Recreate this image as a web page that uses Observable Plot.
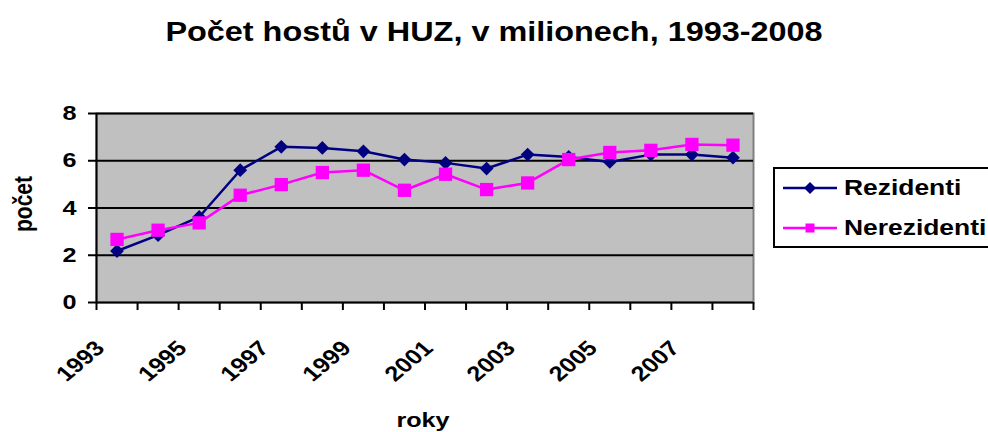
<!DOCTYPE html>
<html>
<head>
<meta charset="utf-8">
<script src="https://cdn.jsdelivr.net/npm/d3@7"></script>
<script src="https://cdn.jsdelivr.net/npm/@observablehq/plot@0.6"></script>
<style>
  html, body { margin: 0; padding: 0; background: #fff; }
  #wrap { position: relative; width: 988px; height: 432px; overflow: hidden; font-family: "Liberation Sans", Arial, sans-serif; font-weight: bold; }
  #title { position: absolute; left: 0; top: 19px; width: 988px; text-align: center; font-size: 27px; line-height: 27px; transform: scaleX(1.2); transform-origin: 494px 0; white-space: nowrap; }
  #legend { position: absolute; left: 773px; top: 167px; width: 230px; height: 77px; border: 2px solid #000; background: #fff; }
  .item { position: absolute; left: 8px; height: 30px; display: flex; align-items: center; }
  .item span { font-size: 22px; line-height: 22px; transform: scaleX(1.2); transform-origin: 0 50%; margin-left: 6px; white-space: nowrap; }
</style>
</head>
<body>
<div id="wrap">
  <div id="chart"></div>
  <div id="title">Počet hostů v HUZ, v milionech, 1993-2008</div>
  <div id="legend"></div>
</div>
<script>
const years = [1993,1994,1995,1996,1997,1998,1999,2000,2001,2002,2003,2004,2005,2006,2007,2008];
const rezidenti   = [2.18,2.85,3.62,5.60,6.59,6.54,6.40,6.05,5.91,5.67,6.26,6.16,5.95,6.26,6.26,6.13];
const nerezidenti = [2.67,3.06,3.37,4.54,4.99,5.50,5.60,4.75,5.43,4.78,5.06,6.05,6.35,6.44,6.69,6.66];
const seriesNames = ["Rezidenti", "Nerezidenti"];
const seriesColors = ["#000080", "#FF00FF"];
const yTicks = [0, 2, 4, 6, 8];
const xLabels = [1993, 1995, 1997, 1999, 2001, 2003, 2005, 2007];
const xBoundaries = d3.range(years.length + 1).map(i => years[0] - 0.5 + i);

const plot = Plot.plot({
  width: 988,
  height: 432,
  marginTop: 113,
  marginBottom: 130,
  marginLeft: 96,
  marginRight: 235,
  style: { fontFamily: '"Liberation Sans", Arial, sans-serif', fontWeight: "bold", fontSize: "21px", background: "transparent", overflow: "visible", color: "#000" },
  x: { type: "linear", domain: [years[0] - 0.5, years[years.length - 1] + 0.5], axis: null },
  y: { domain: [0, 8], axis: null },
  marks: [
    Plot.frame({ fill: "#C0C0C0", stroke: "#808080", strokeWidth: 2 }),
    Plot.ruleY([2, 4, 6, 8], { stroke: "#000", strokeWidth: 2 }),
    Plot.ruleX([xBoundaries[0]], { stroke: "#000", strokeWidth: 2 }),
    Plot.ruleY([0], { stroke: "#000", strokeWidth: 2 }),
    Plot.axisY({ ticks: yTicks, tickSize: 8, tickPadding: 12, fontSize: 21, strokeWidth: 2, label: null }),
    Plot.axisX({ ticks: xBoundaries, tickSize: 8, strokeWidth: 2, tickFormat: () => "", label: null }),
    Plot.text(xLabels, { x: d => d, text: d => String(d), frameAnchor: "bottom", rotate: -45, textAnchor: "end", lineAnchor: "bottom", dx: -11, dy: 47, fontSize: 21 }),
    Plot.text(["počet"], { frameAnchor: "left", textAnchor: "middle", lineAnchor: "middle", rotate: -90, dx: -73, dy: -4, fontSize: 21 }),
    Plot.text(["roky"], { frameAnchor: "bottom", textAnchor: "middle", dx: -2, dy: 124, lineAnchor: "bottom", fontSize: 21 }),
    Plot.line(years, { x: years, y: rezidenti, stroke: seriesColors[0], strokeWidth: 2.5 }),
    Plot.dot(years, { x: years, y: rezidenti, symbol: "diamond2", r: 6.2, fill: seriesColors[0], stroke: "none" }),
    Plot.line(years, { x: years, y: nerezidenti, stroke: seriesColors[1], strokeWidth: 2.5 }),
    Plot.dot(years, { x: years, y: nerezidenti, symbol: "square", r: 7.5, fill: seriesColors[1], stroke: "none" })
  ]
});
document.getElementById("chart").appendChild(plot);

// the original lettering is widened horizontally: stretch every text about its anchor point
const svgns = "http://www.w3.org/2000/svg";
function anchorOf(t) {
  const tr = t.getAttribute("transform");
  const m = tr && tr.match(/translate\(\s*([-\d.e]+)[ ,]+([-\d.e]+)\s*\)/);
  if (m) return [+m[1], +m[2]];
  return [+(t.getAttribute("x") || 0), +(t.getAttribute("y") || 0)];
}
Array.from(plot.querySelectorAll("text")).forEach(t => {
  if (!t.textContent) return;
  const [px, py] = anchorOf(t);
  const g = document.createElementNS(svgns, "g");
  g.setAttribute("transform", `translate(${px},${py}) scale(1.2,1) translate(${-px},${-py})`);
  t.parentNode.insertBefore(g, t);
  g.appendChild(t);
});

// legend
const legend = document.getElementById("legend");
seriesNames.forEach((name, i) => {
  const item = document.createElement("div");
  item.className = "item";
  item.style.top = (i === 0 ? 4 : 44) + "px";
  const sym = i === 0
    ? `<path d="M27,9 L33,15 L27,21 L21,15 Z" fill="${seriesColors[i]}"/>`
    : `<rect x="22.5" y="10.5" width="9" height="9" fill="${seriesColors[i]}"/>`;
  item.innerHTML = `<svg width="55" height="30"><line x1="0" y1="15" x2="54" y2="15" stroke="${seriesColors[i]}" stroke-width="2.5"/>${sym}</svg><span>${name}</span>`;
  legend.appendChild(item);
});
</script>
</body>
</html>
